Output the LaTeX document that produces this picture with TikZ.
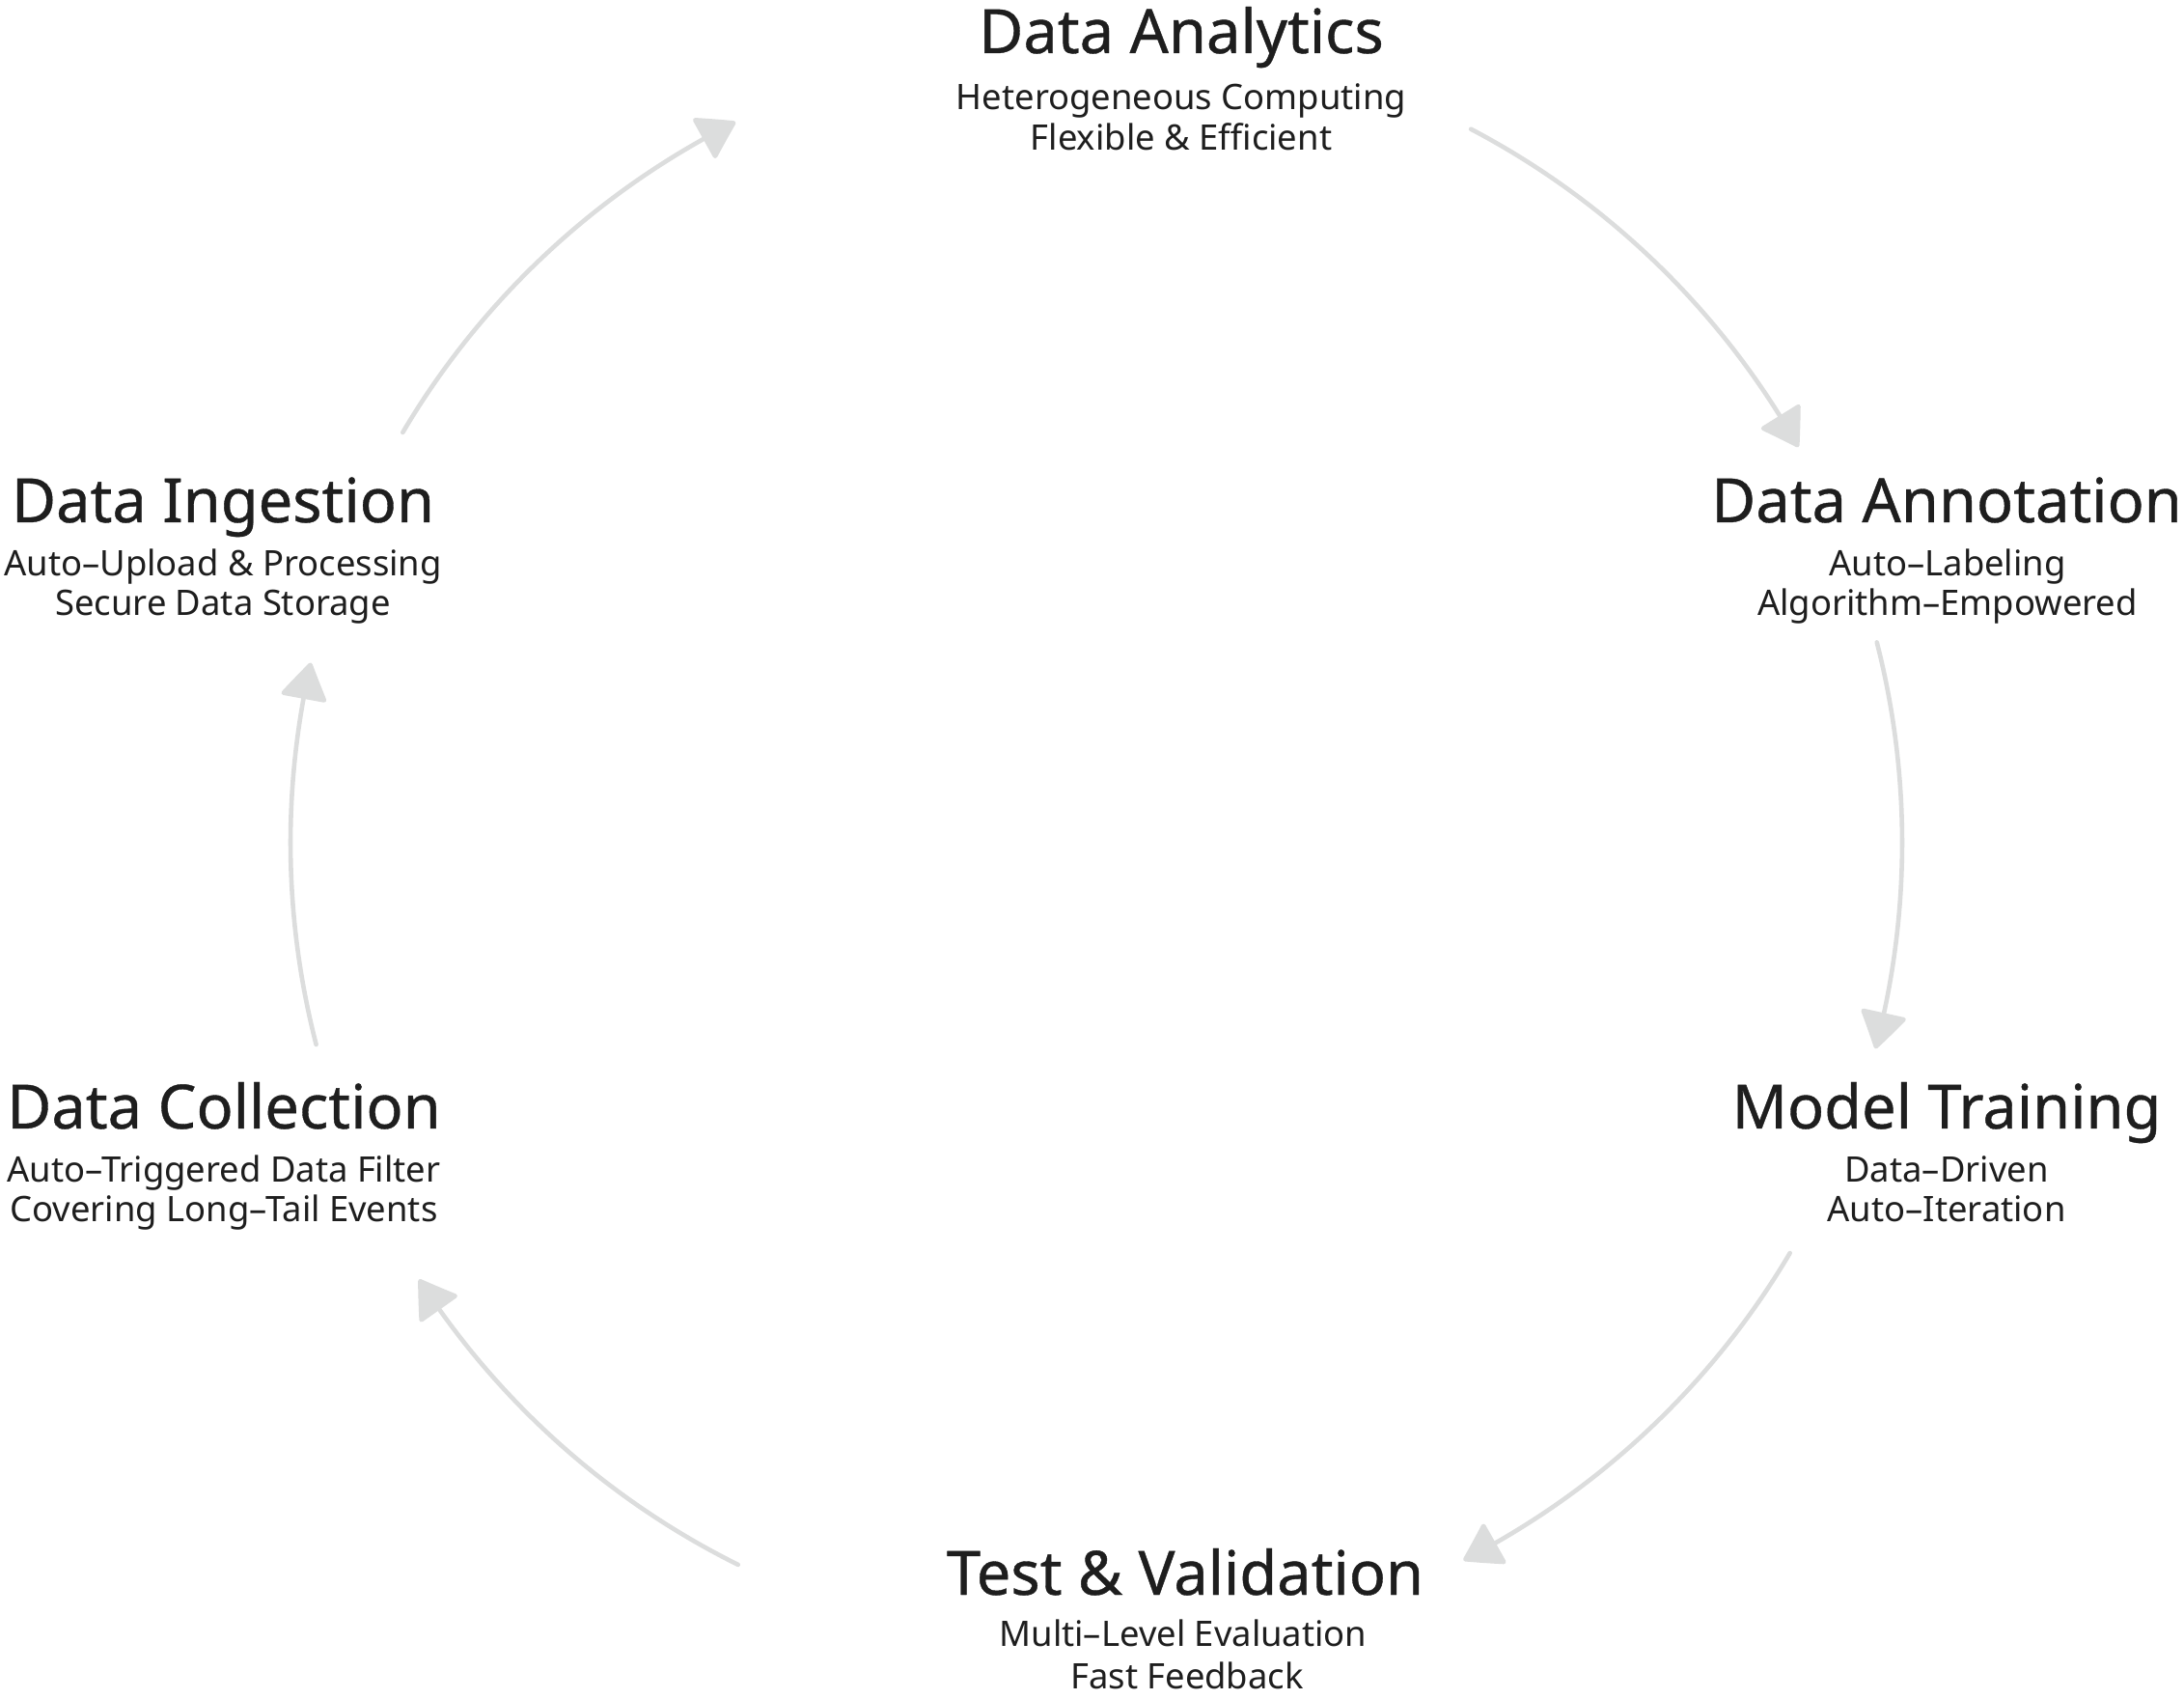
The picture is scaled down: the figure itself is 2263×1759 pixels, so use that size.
\documentclass[tikz,border=0pt]{standalone}
\usepackage{fontspec}
\setmainfont{Noto Sans}
\newfontfamily\ttlfont{Noto Sans}[FakeBold=0.6]
\usetikzlibrary{arrows.meta,bending,calc}
\definecolor{txt}{HTML}{1E1E1E}
\definecolor{arr}{HTML}{DCDDDD}
\begin{document}
\begin{tikzpicture}[x=0.25pt,y=0.25pt,
  ttl/.style={anchor=base,inner sep=0pt,text=txt,font=\ttlfont\fontsize{15.8}{19}\selectfont},
  sub/.style={anchor=base,inner sep=0pt,text=txt,font=\fontsize{9.1}{11}\selectfont},
  flow/.style={draw=arr,line width=1.15pt,line cap=round,
    -{Triangle[length=10pt,width=12.5pt,round,bend]}}]
\useasboundingbox[fill=white] (0,0) rectangle (2263,1759);
\coordinate (c) at (1136,886);

% Data Analytics
\node[ttl] (anT) at (1224,1704) {Data Analytics};
\node[sub] (anA) at (1224,1645) {Heterogeneous Computing};
\node[sub] (anB) at (1224,1603) {Flexible \& Efficient};
% Data Ingestion
\node[ttl] (inT) at (231,1218) {Data Ingestion};
\node[sub] (inA) at (231,1162) {Auto–Upload \& Processing};
\node[sub] (inB) at (231,1121) {Secure Data Storage};
% Data Annotation
\node[ttl] (ntT) at (2017,1218) {Data Annotation};
\node[sub] (ntA) at (2018,1162) {Auto–Labeling};
\node[sub] (ntB) at (2018,1121) {Algorithm–Empowered};
% Data Collection
\node[ttl] (coT) at (232,590) {Data Collection};
\node[sub] (coA) at (232,534) {Auto–Triggered Data Filter};
\node[sub] (coB) at (232,493) {Covering Long–Tail Events};
% Model Training
\node[ttl] (mtT) at (2017,590) {Model Training};
\node[sub] (mtA) at (2017,534) {Data–Driven};
\node[sub] (mtB) at (2017,493) {Auto–Iteration};
% Test & Validation
\node[ttl] (tvT) at (1228,107) {Test \& Validation};
\node[sub] (tvA) at (1226,53) {Multi–Level Evaluation};
\node[sub] (tvB) at (1230,9) {Fast Feedback};

% arrow start points on the circle
\coordinate (s1) at ($(c)+(149.4:835)$);
\coordinate (s2) at ($(c)+(62.3:835)$);
\coordinate (s3) at ($(c)+(14.4:835)$);
\coordinate (s4) at ($(c)+(-30.6:835)$);
\coordinate (s5) at ($(c)+(243.6:835)$);
\coordinate (s6) at ($(c)+(194.5:835)$);

\draw[flow] (s1) arc[start angle=149.4, end angle=116.6, radius=208.75pt];
\draw[flow] (s2) arc[start angle=62.3, end angle=29.4, radius=208.75pt];
\draw[flow] (s3) arc[start angle=14.4, end angle=-14.8, radius=208.75pt];
\draw[flow] (s4) arc[start angle=-30.6, end angle=-62.9, radius=208.75pt];
\draw[flow] (s5) arc[start angle=243.6, end angle=212.8, radius=208.75pt];
\draw[flow] (s6) arc[start angle=194.5, end angle=167.1, radius=208.75pt];
\end{tikzpicture}
\end{document}
